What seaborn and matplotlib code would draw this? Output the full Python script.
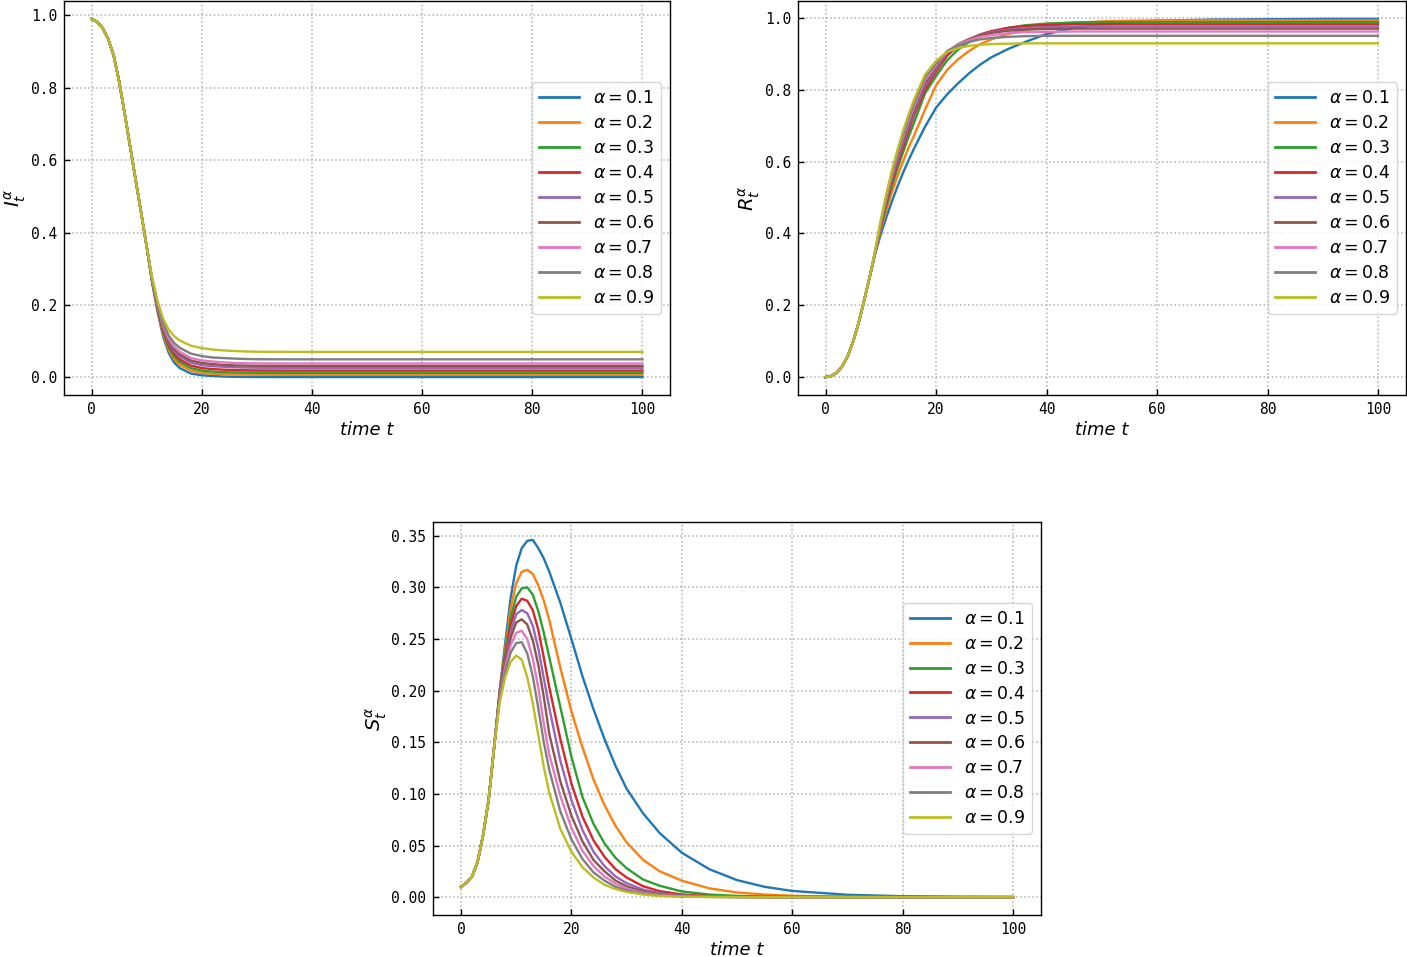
import matplotlib
matplotlib.use("Agg")
import matplotlib.pyplot as plt
import pandas as pd
import seaborn as sns

# ---------------- data ----------------
ALPHAS = [0.1, 0.2, 0.3, 0.4, 0.5, 0.6, 0.7, 0.8, 0.9]
LABELS = [r"$\alpha=%.1f$" % a for a in ALPHAS]

T = [0, 1, 2, 3, 4, 5, 6, 7, 8, 9, 10, 11, 12, 13, 14, 15, 16, 18, 20, 22, 24,
     26, 28, 30, 33, 36, 40, 45, 50, 55, 60, 70, 80, 90, 100]

# top-left panel  I_t^alpha   (t = 0..10 shared, then t = 11 ... 100)
I_EARLY = [0.990, 0.982, 0.965, 0.935, 0.890, 0.818, 0.730, 0.638, 0.546, 0.455, 0.362]
I_A1 = I_EARLY + [0.262, 0.180, 0.112, 0.068, 0.041, 0.026, 0.011, 0.006, 0.004, 0.0025, 0.0018, 0.0014, 0.0012, 0.0011,
                  0.001, 0.001, 0.001, 0.001, 0.001, 0.001, 0.001, 0.001, 0.001, 0.001]
I_A2 = I_EARLY + [0.264, 0.184, 0.118, 0.076, 0.050, 0.035, 0.019, 0.013, 0.010, 0.009, 0.0082, 0.0078, 0.0075, 0.0074,
                  0.0073, 0.0073, 0.0073, 0.0073, 0.0073, 0.0073, 0.0073, 0.0073, 0.0073, 0.0073]
I_A3 = I_EARLY + [0.266, 0.187, 0.124, 0.083, 0.058, 0.043, 0.026, 0.019, 0.016, 0.0145, 0.0137, 0.0133, 0.0130, 0.0129,
                  0.0128, 0.0128, 0.0128, 0.0128, 0.0128, 0.0128, 0.0128, 0.0128, 0.0128, 0.0128]
I_A4 = I_EARLY + [0.267, 0.190, 0.129, 0.090, 0.065, 0.050, 0.033, 0.026, 0.023, 0.0215, 0.0203, 0.0197, 0.0193, 0.0191,
                  0.019, 0.019, 0.019, 0.019, 0.019, 0.019, 0.019, 0.019, 0.019, 0.019]
I_A5 = I_EARLY + [0.268, 0.193, 0.134, 0.096, 0.072, 0.058, 0.041, 0.034, 0.031, 0.0295, 0.028, 0.0272, 0.0268, 0.0267,
                  0.0266, 0.0266, 0.0266, 0.0266, 0.0266, 0.0266, 0.0266, 0.0266, 0.0266, 0.0266]
I_A6 = I_EARLY + [0.269, 0.196, 0.138, 0.101, 0.078, 0.064, 0.047, 0.040, 0.037, 0.0345, 0.0333, 0.0327, 0.0323, 0.0321,
                  0.032, 0.032, 0.032, 0.032, 0.032, 0.032, 0.032, 0.032, 0.032, 0.032]
I_A7 = I_EARLY + [0.270, 0.199, 0.143, 0.107, 0.085, 0.071, 0.054, 0.047, 0.044, 0.0415, 0.040, 0.0392, 0.0388, 0.0386,
                  0.0385, 0.0385, 0.0385, 0.0385, 0.0385, 0.0385, 0.0385, 0.0385, 0.0385, 0.0385]
I_A8 = I_EARLY + [0.272, 0.203, 0.150, 0.116, 0.095, 0.082, 0.066, 0.059, 0.055, 0.0535, 0.052, 0.051, 0.0503, 0.0501,
                  0.050, 0.050, 0.050, 0.050, 0.050, 0.050, 0.050, 0.050, 0.050, 0.050]
I_A9 = I_EARLY + [0.276, 0.210, 0.162, 0.132, 0.114, 0.102, 0.088, 0.081, 0.077, 0.0745, 0.073, 0.0718, 0.0710, 0.0707,
                  0.0706, 0.0706, 0.0706, 0.0706, 0.0706, 0.0706, 0.0706, 0.0706, 0.0706, 0.0706]

# top-right panel  R_t^alpha   (t = 0..8 shared, then t = 9 ... 100)
R_EARLY = [0.0, 0.003, 0.012, 0.030, 0.058, 0.100, 0.152, 0.215, 0.280]
R_A1 = R_EARLY + [0.345, 0.398, 0.445, 0.489, 0.530, 0.568, 0.603, 0.636, 0.697, 0.750, 0.787, 0.818, 0.846, 0.870,
                  0.890, 0.913, 0.932, 0.955, 0.972, 0.982, 0.988, 0.992, 0.995, 0.996, 0.997, 0.997]
R_A2 = R_EARLY + [0.347, 0.410, 0.465, 0.514, 0.559, 0.600, 0.638, 0.672, 0.745, 0.812, 0.855, 0.885, 0.908, 0.927,
                  0.940, 0.955, 0.966, 0.977, 0.986, 0.990, 0.992, 0.993, 0.993, 0.993, 0.993, 0.993]
R_A3 = R_EARLY + [0.348, 0.416, 0.478, 0.532, 0.580, 0.625, 0.668, 0.708, 0.790, 0.838, 0.882, 0.912, 0.933, 0.950,
                  0.961, 0.972, 0.979, 0.984, 0.987, 0.988, 0.988, 0.988, 0.988, 0.988, 0.988, 0.988]
R_A4 = R_EARLY + [0.349, 0.420, 0.485, 0.542, 0.593, 0.640, 0.684, 0.728, 0.800, 0.850, 0.895, 0.922, 0.940, 0.954,
                  0.963, 0.972, 0.977, 0.980, 0.982, 0.982, 0.982, 0.982, 0.982, 0.982, 0.982, 0.982]
R_A5 = R_EARLY + [0.350, 0.424, 0.491, 0.550, 0.602, 0.650, 0.693, 0.735, 0.810, 0.857, 0.903, 0.926, 0.940, 0.952,
                  0.960, 0.967, 0.971, 0.974, 0.976, 0.976, 0.976, 0.976, 0.976, 0.976, 0.976, 0.976]
R_A6 = R_EARLY + [0.351, 0.427, 0.496, 0.556, 0.610, 0.658, 0.702, 0.743, 0.818, 0.863, 0.905, 0.927, 0.941, 0.951,
                  0.958, 0.964, 0.967, 0.969, 0.970, 0.970, 0.970, 0.970, 0.970, 0.970, 0.970, 0.970]
R_A7 = R_EARLY + [0.352, 0.430, 0.500, 0.562, 0.617, 0.666, 0.711, 0.752, 0.826, 0.868, 0.907, 0.926, 0.938, 0.947,
                  0.952, 0.957, 0.960, 0.961, 0.962, 0.962, 0.962, 0.962, 0.962, 0.962, 0.962, 0.962]
R_A8 = R_EARLY + [0.353, 0.433, 0.505, 0.568, 0.624, 0.674, 0.720, 0.761, 0.834, 0.873, 0.907, 0.923, 0.933, 0.940,
                  0.944, 0.947, 0.949, 0.950, 0.950, 0.950, 0.950, 0.950, 0.950, 0.950, 0.950, 0.950]
R_A9 = R_EARLY + [0.355, 0.438, 0.510, 0.575, 0.632, 0.684, 0.730, 0.772, 0.842, 0.880, 0.905, 0.916, 0.922, 0.925,
                  0.927, 0.928, 0.929, 0.929, 0.929, 0.929, 0.929, 0.929, 0.929, 0.929, 0.929, 0.929]

# bottom panel  S_t^alpha   (t = 0..6 shared, then t = 7 ... 100)
S_EARLY = [0.010, 0.014, 0.020, 0.034, 0.060, 0.094, 0.145]
S_A1 = S_EARLY + [0.200, 0.246, 0.290, 0.321, 0.338, 0.345, 0.346, 0.338, 0.328, 0.315, 0.285, 0.250, 0.214, 0.182,
                  0.153, 0.127, 0.105, 0.081, 0.062, 0.043, 0.027, 0.0165, 0.010, 0.006, 0.0023, 0.0009, 0.0004, 0.0002]
S_A2 = S_EARLY + [0.199, 0.240, 0.280, 0.304, 0.315, 0.317, 0.313, 0.302, 0.287, 0.268, 0.222, 0.180, 0.145, 0.114,
                  0.089, 0.069, 0.053, 0.036, 0.025, 0.016, 0.0085, 0.0045, 0.0025, 0.0013, 0.0004, 0.0001, 0.0, 0.0]
S_A3 = S_EARLY + [0.198, 0.236, 0.271, 0.291, 0.299, 0.300, 0.293, 0.277, 0.256, 0.232, 0.184, 0.136, 0.097, 0.071,
                  0.052, 0.038, 0.028, 0.017, 0.011, 0.0055, 0.0025, 0.0012, 0.0006, 0.0003, 0.0001, 0.0, 0.0, 0.0]
S_A4 = S_EARLY + [0.197, 0.232, 0.264, 0.282, 0.289, 0.287, 0.278, 0.259, 0.232, 0.203, 0.153, 0.110, 0.078, 0.055,
                  0.039, 0.027, 0.019, 0.0105, 0.0058, 0.0026, 0.001, 0.0004, 0.0002, 0.0001, 0.0, 0.0, 0.0, 0.0]
S_A5 = S_EARLY + [0.196, 0.229, 0.257, 0.274, 0.278, 0.275, 0.263, 0.241, 0.212, 0.183, 0.132, 0.094, 0.065, 0.044,
                  0.030, 0.020, 0.0135, 0.0072, 0.0038, 0.0016, 0.0006, 0.0002, 0.0001, 0.0, 0.0, 0.0, 0.0, 0.0]
S_A6 = S_EARLY + [0.195, 0.226, 0.251, 0.266, 0.269, 0.264, 0.249, 0.225, 0.194, 0.158, 0.112, 0.079, 0.054, 0.036,
                  0.025, 0.016, 0.0105, 0.0055, 0.0028, 0.0011, 0.0004, 0.0001, 0.0, 0.0, 0.0, 0.0, 0.0, 0.0]
S_A7 = S_EARLY + [0.193, 0.222, 0.244, 0.256, 0.258, 0.250, 0.231, 0.203, 0.168, 0.138, 0.098, 0.067, 0.045, 0.030,
                  0.020, 0.013, 0.0083, 0.0042, 0.0021, 0.0008, 0.0003, 0.0001, 0.0, 0.0, 0.0, 0.0, 0.0, 0.0]
S_A8 = S_EARLY + [0.191, 0.218, 0.237, 0.246, 0.247, 0.236, 0.214, 0.183, 0.150, 0.123, 0.083, 0.056, 0.037, 0.024,
                  0.016, 0.010, 0.0065, 0.0033, 0.0016, 0.0006, 0.0002, 0.0001, 0.0, 0.0, 0.0, 0.0, 0.0, 0.0]
S_A9 = S_EARLY + [0.188, 0.213, 0.228, 0.234, 0.230, 0.213, 0.188, 0.157, 0.126, 0.101, 0.066, 0.044, 0.029, 0.019,
                  0.012, 0.0078, 0.005, 0.0025, 0.0012, 0.0005, 0.0001, 0.0, 0.0, 0.0, 0.0, 0.0, 0.0, 0.0]

PANELS = [
    ("I", r"$I_t^{\alpha}$", [I_A1, I_A2, I_A3, I_A4, I_A5, I_A6, I_A7, I_A8, I_A9]),
    ("R", r"$R_t^{\alpha}$", [R_A1, R_A2, R_A3, R_A4, R_A5, R_A6, R_A7, R_A8, R_A9]),
    ("S", r"$S_t^{\alpha}$", [S_A1, S_A2, S_A3, S_A4, S_A5, S_A6, S_A7, S_A8, S_A9]),
]

# ---------------- styling ----------------
plt.rcParams["font.family"] = ["DejaVu Sans Mono", "DejaVu Sans"]
plt.rcParams["mathtext.fontset"] = "dejavusans"
plt.rcParams["xtick.direction"] = "in"
plt.rcParams["ytick.direction"] = "in"

W, H = 1407, 957
fig = plt.figure(figsize=(W / 100, H / 100), dpi=100)
axes_px = [  # left, top, right, bottom in pixels
    (64, 1, 670, 395),
    (798, 1, 1405.6, 395),
    (433.4, 522, 1040.6, 915),
]
axes = []
for l, t, r, b in axes_px:
    axes.append(fig.add_axes([l / W, 1 - b / H, (r - l) / W, (b - t) / H]))

palette = sns.color_palette("tab10", 9)

for ax, (key, ylab, series) in zip(axes, PANELS):
    rows = []
    for lab, vals in zip(LABELS, series):
        for t, v in zip(T, vals):
            rows.append({"t": t, "v": v, "alpha": lab})
    df = pd.DataFrame(rows)
    sns.lineplot(data=df, x="t", y="v", hue="alpha", hue_order=LABELS,
                 palette=palette, linewidth=1.7, ax=ax, legend=True)
    old = ax.get_legend()
    handles = old.legend_handles
    labels = [tx.get_text() for tx in old.get_texts()]
    old.remove()
    for h in handles:
        h.set_linewidth(2.0)
    ax.legend(handles, labels, loc="center right", labelspacing=0.4,
              handlelength=2.3, prop={"family": "DejaVu Sans", "size": 12.5})
    ax.grid(True, linestyle=":", color="#b0b0b0", linewidth=1.1)
    ax.set_axisbelow(True)
    ax.tick_params(direction="in", length=4, width=1, labelsize=10.5, pad=5)
    for sp in ax.spines.values():
        sp.set_linewidth(1.0)
        sp.set_color("black")
    ax.set_xlabel("time t", fontsize=13, fontstyle="italic", family="DejaVu Sans", labelpad=3)
    ax.set_ylabel(ylab, fontsize=14, labelpad=2)
    ax.set_xticks([0, 20, 40, 60, 80, 100])

axes[2].yaxis.set_major_formatter(matplotlib.ticker.FormatStrFormatter("%.2f"))
axes[0].yaxis.set_major_formatter(matplotlib.ticker.FormatStrFormatter("%.1f"))
axes[1].yaxis.set_major_formatter(matplotlib.ticker.FormatStrFormatter("%.1f"))

fig.savefig("out.png", dpi=100)
